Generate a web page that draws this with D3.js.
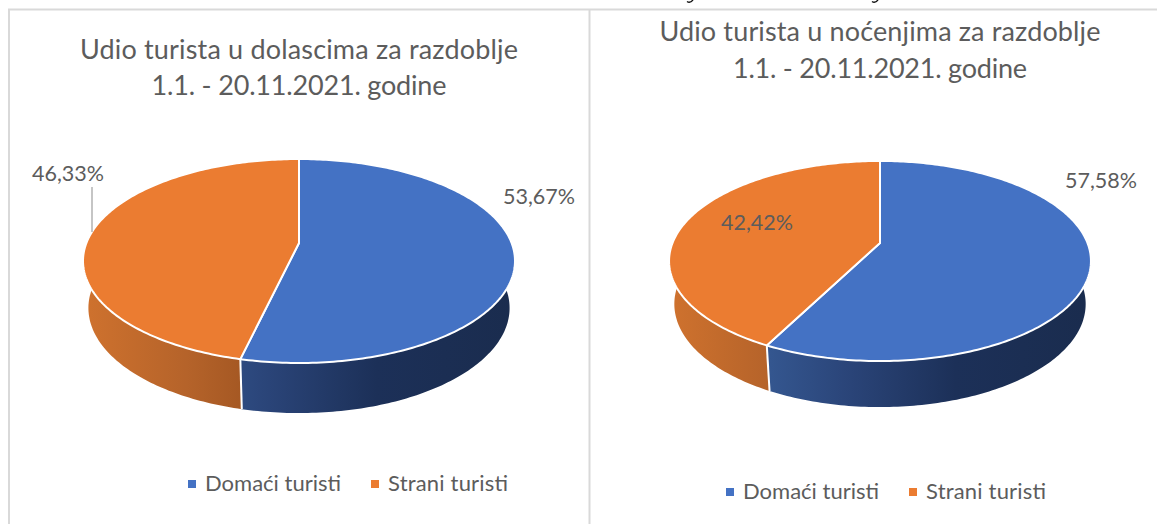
<!DOCTYPE html>
<html>
<head>
<meta charset="utf-8">
<script src="https://cdn.jsdelivr.net/npm/d3@7/dist/d3.min.js"></script>
<style>
  html, body { margin: 0; padding: 0; background: #fff; }
  svg { display: block; }
  text { font-family: Lato, "Open Sans", sans-serif; fill: #5c5c5c; }
</style>
</head>
<body>
<svg width="1157" height="524"></svg>
<script>
// data
var categories = ["Domaći turisti", "Strani turisti"];
var dolasci = [53.67, 46.33];
var nocenja = [57.58, 42.42];
var dolasciTitle = ["Udio turista u dolascima za razdoblje", "1.1. - 20.11.2021. godine"];
var nocenjaTitle = ["Udio turista u noćenjima za razdoblje", "1.1. - 20.11.2021. godine"];
var colors = ["#4472c4", "#eb7c31"];

var svg = d3.select("svg");
var defs = svg.append("defs");

// frame of the two cells
var frame = svg.append("g").attr("stroke", "#d9d9d9").attr("stroke-width", 2);
frame.append("line").attr("x1", 8).attr("x2", 1157).attr("y1", 9.5).attr("y2", 9.5);
frame.append("line").attr("x1", 9).attr("x2", 9).attr("y1", 9).attr("y2", 524);
frame.append("line").attr("x1", 589.5).attr("x2", 589.5).attr("y1", 9).attr("y2", 524);

// tails of the text line cut off above the table
svg.append("g").attr("fill", "none").attr("stroke", "#111").attr("stroke-width", 1.4)
  .selectAll("path").data([690, 875]).enter().append("path")
    .attr("d", function(d) { return "M" + (d - 3) + ",1.5Q" + d + ",3.5 " + (d + 3) + ",0"; });

var gradientStops = [
  [[0, "#3c64a8"], [0.24, "#34568f"], [0.43, "#2a4478"], [0.68, "#1c3058"], [1, "#1a2c4e"]],
  [[0, "#cf722e"], [0.24, "#b5632a"], [0.37, "#a55823"], [1, "#8a481c"]]
];

function drawPie(opt) {
  var g = svg.append("g");

  // perspective disc: maps an angle (clockwise from the top) to a screen point
  function rim(theta, level) {
    var u = Math.sin(theta), v = Math.cos(theta), w = 1 + opt.k * v;
    var sx = level ? opt.shrinkX : 1, sy = level ? opt.shrinkY : 1;
    return [opt.cx + opt.b * sx * u / w, opt.cy + (level ? opt.depth : 0) - opt.a * sy * v / w];
  }
  var line = d3.line();
  function samples(a0, a1) {
    var n = Math.max(2, Math.ceil((a1 - a0) * 60));
    return d3.range(n + 1).map(function(i) { return a0 + (a1 - a0) * i / n; });
  }

  var arcs = d3.pie().sort(null)(opt.values);

  // side wall, one path of small quads per slice
  arcs.forEach(function(d, i) {
    var id = opt.id + "-side-" + i;
    var grad = defs.append("linearGradient").attr("id", id).attr("gradientUnits", "userSpaceOnUse")
      .attr("x1", opt.cx - opt.rx).attr("x2", opt.cx + opt.rx).attr("y1", 0).attr("y2", 0);
    gradientStops[i].forEach(function(s) {
      grad.append("stop").attr("offset", s[0]).attr("stop-color", s[1]);
    });
    var ts = samples(d.startAngle, d.endAngle), path = "";
    for (var j = 0; j < ts.length - 1; j++) {
      path += line([rim(ts[j], 0), rim(ts[j + 1], 0), rim(ts[j + 1], 1), rim(ts[j], 1)]) + "Z";
    }
    g.append("path").attr("d", path).attr("fill", "url(#" + id + ")");
  });

  // white seam on the wall where the slices meet in front
  g.append("path")
    .attr("d", line([rim(arcs[0].endAngle, 0), rim(arcs[0].endAngle, 1)]))
    .attr("stroke", "#fff").attr("stroke-width", 2).attr("fill", "none");

  // top face
  arcs.forEach(function(d, i) {
    var pts = samples(d.startAngle, d.endAngle).map(function(t) { return rim(t, 0); });
    g.append("path")
      .attr("d", "M" + opt.cx + "," + opt.cy + "L" + line(pts).slice(1) + "Z")
      .attr("fill", colors[i])
      .attr("stroke", "#fff").attr("stroke-width", 2).attr("stroke-linejoin", "round");
  });

  // titles
  g.selectAll(".title").data(opt.title).enter().append("text")
    .attr("class", "title")
    .attr("x", opt.cx)
    .attr("y", function(d, i) { return opt.titleY[i]; })
    .attr("text-anchor", "middle")
    .attr("font-size", 27)
    .attr("textLength", function(d, i) { return opt.titleW[i]; })
    .text(function(d) { return d; });

  // value labels
  opt.values.forEach(function(v, i) {
    g.append("text")
      .attr("x", opt.labelX[i]).attr("y", opt.labelY[i])
      .attr("font-size", 21.5)
      .text(d3.format(".2f")(v).replace(".", ",") + "%");
  });

  if (opt.leader) {
    g.append("line")
      .attr("x1", opt.leader[0]).attr("x2", opt.leader[0])
      .attr("y1", opt.leader[1]).attr("y2", opt.leader[2])
      .attr("stroke", "#a6a6a6").attr("stroke-width", 1.3);
  }

  // legend
  var legendW = [136, 120];
  categories.forEach(function(c, i) {
    g.append("rect")
      .attr("x", opt.legendX[i]).attr("y", opt.legendY - 11)
      .attr("width", 8).attr("height", 8)
      .attr("fill", colors[i]);
    g.append("text")
      .attr("x", opt.legendX[i] + 17).attr("y", opt.legendY)
      .attr("font-size", 22)
      .attr("textLength", legendW[i])
      .text(c);
  });
}

drawPie({
  id: "dolasci", values: dolasci, title: dolasciTitle,
  cx: 299, cy: 243, rx: 216, b: 212.6, a: 98.8, k: 0.1765, depth: 46.5, shrinkX: 0.975, shrinkY: 1.03,
  titleY: [59, 95], titleW: [438, 295],
  labelX: [503, 32], labelY: [204, 181],
  leader: [92, 187, 232],
  legendX: [188, 371], legendY: 491
});

drawPie({
  id: "nocenja", values: nocenja, title: nocenjaTitle,
  cx: 880, cy: 243, rx: 211, b: 207.5, a: 96.8, k: 0.18, depth: 42.5, shrinkX: 0.975, shrinkY: 1.03,
  titleY: [41, 78], titleW: [441, 294],
  labelX: [1065, 721], labelY: [188, 230],
  legendX: [726, 909], legendY: 499
});
</script>
</body>
</html>
